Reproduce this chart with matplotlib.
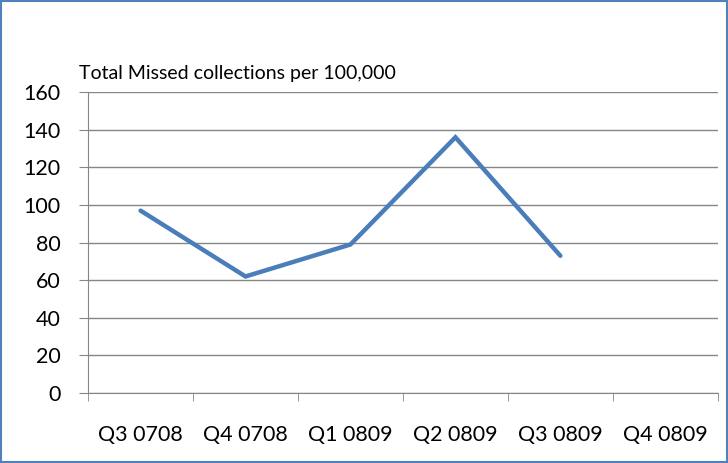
import matplotlib
matplotlib.use("Agg")
import matplotlib.pyplot as plt
from matplotlib.patches import Rectangle

quarters = ["Q3 0708", "Q4 0708", "Q1 0809", "Q2 0809", "Q3 0809", "Q4 0809"]
missed = [97, 62, 79, 136, 73]
y_ticks = [0, 20, 40, 60, 80, 100, 120, 140, 160]

plt.rcParams['font.family'] = ['Lato', 'DejaVu Sans']

fig = plt.figure(figsize=(7.28, 4.63), dpi=100)
ax = fig.add_axes([0.121, 0.151, 0.865, 0.650])

grid_col = '#868686'
x = list(range(len(missed)))
ax.plot(x, missed, color='#4A7EBB', linewidth=3.2, solid_capstyle='round',
        solid_joinstyle='miter', zorder=3)

ax.set_xlim(-0.5, len(quarters) - 0.5)
ax.set_ylim(0, 160)
ax.set_yticks(y_ticks)
ax.set_yticklabels([str(v) for v in y_ticks], fontsize=15.5)
ax.yaxis.grid(True, color=grid_col, linewidth=1)
ax.set_axisbelow(True)

# category labels centred, ticks on boundaries
ax.set_xticks(range(len(quarters)))
ax.set_xticklabels(quarters, fontsize=15.5)
ax.tick_params(axis='x', length=0, pad=23)
ax.set_xticks([i - 0.5 for i in range(len(quarters) + 1)], minor=True)
ax.tick_params(axis='x', which='minor', length=6, color=grid_col, direction='out')
ax.tick_params(axis='y', length=6.5, color=grid_col, direction='out', pad=13.5)

for side in ['top', 'right']:
    ax.spines[side].set_visible(False)
ax.spines['left'].set_color(grid_col)
ax.spines['bottom'].set_color(grid_col)

fig.text(0.109, 0.842, "Total Missed collections per 100,000", fontsize=14,
         ha='left', va='center')

fig.patches.append(Rectangle((0.002, 0.002), 0.996, 0.995, transform=fig.transFigure,
                             fill=False, edgecolor='#4F81BD', linewidth=1.5))

fig.savefig("out.png", dpi=100)
